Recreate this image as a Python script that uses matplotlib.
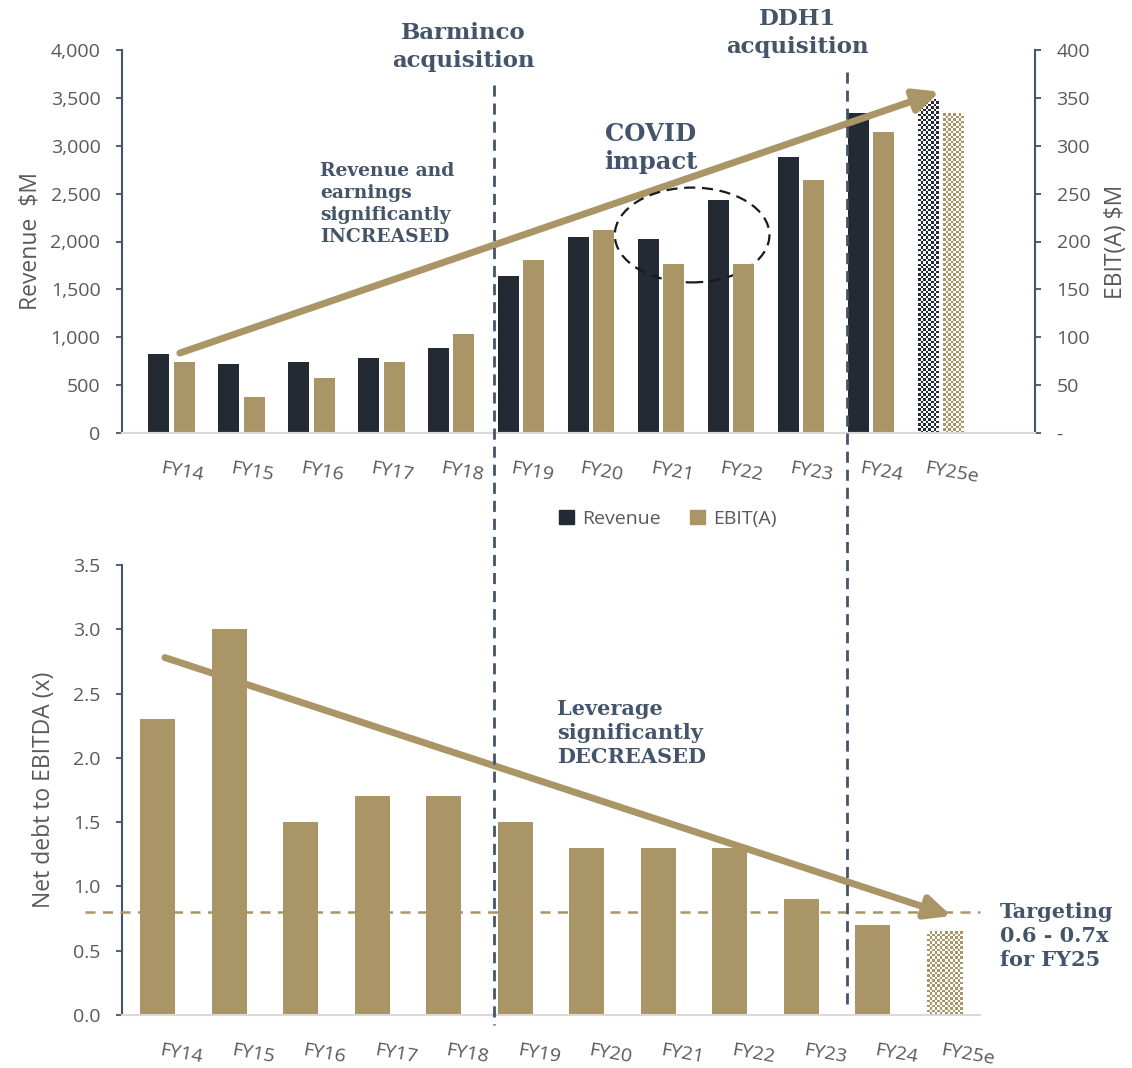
import numpy as np
import matplotlib
matplotlib.use("Agg")
import matplotlib.pyplot as plt
from matplotlib.patches import Ellipse, Patch
from matplotlib.lines import Line2D
from matplotlib.ticker import FixedLocator, FixedFormatter, FuncFormatter

# ---- data -------------------------------------------------------------
years = ["FY14", "FY15", "FY16", "FY17", "FY18", "FY19",
         "FY20", "FY21", "FY22", "FY23", "FY24", "FY25e"]
revenue = [825, 720, 740, 783, 888, 1640, 2047, 2026, 2433, 2882, 3342, 3488]
ebit = [74, 38, 57, 74, 103, 181, 212, 177, 177, 264, 314, 334]
leverage = [2.3, 3.0, 1.5, 1.7, 1.7, 1.5, 1.3, 1.3, 1.3, 0.9, 0.7, 0.65]
leverage_target = 0.8
rev_ticks = [0, 500, 1000, 1500, 2000, 2500, 3000, 3500, 4000]
ebit_ticks = [0, 50, 100, 150, 200, 250, 300, 350, 400]
lev_ticks = [0.0, 0.5, 1.0, 1.5, 2.0, 2.5, 3.0, 3.5]

# ---- style ------------------------------------------------------------
NAVY = "#232A34"
GOLD = "#AA9566"
SLATE = "#44546A"
GREY = "#595959"
BASE = "#D9D9D9"
TICK_FONT = "Open Sans"
NOTE_FONT = "DejaVu Serif"

W, H = 1132, 1068
fig = plt.figure(figsize=(W / 100, H / 100), dpi=100)


def fbox(x0, y0, x1, y1):
    """pixel box (top-left origin) -> figure rect"""
    return [x0 / W, 1 - y1 / H, (x1 - x0) / W, (y1 - y0) / H]


def checker_bar(ax, x, width, height, color, cell_px=2.5):
    """bar filled with a fine checkerboard (forecast years)"""
    p0 = ax.transData.transform((x - width / 2, 0))
    p1 = ax.transData.transform((x + width / 2, height))
    nx = max(1, int(round(abs(p1[0] - p0[0]) / cell_px)))
    ny = max(1, int(round(abs(p1[1] - p0[1]) / cell_px)))
    mask = np.add.outer(np.arange(ny), np.arange(nx)) % 2
    rgb = np.array(matplotlib.colors.to_rgb(color))
    img = np.ones((ny, nx, 3))
    img[mask == 1] = rgb
    xl, yl = ax.get_xlim(), ax.get_ylim()
    ax.imshow(img, extent=(x - width / 2, x + width / 2, 0, height),
              aspect="auto", interpolation="nearest", zorder=2, origin="lower")
    ax.set_xlim(xl)
    ax.set_ylim(yl)


def style_xticks(ax, idx, shift):
    # category labels sit slightly right of their bars, tilted
    ax.set_xticks(idx + shift)
    ax.set_xticklabels(years, rotation=-10, fontsize=14, color=GREY,
                       fontfamily=TICK_FONT)
    ax.tick_params(axis="x", length=0, pad=19)


def style_yticks(ax):
    ax.tick_params(axis="y", labelsize=14, labelcolor=GREY, color=SLATE,
                   length=4.5, width=1.3, pad=11)
    for lab in ax.get_yticklabels():
        lab.set_fontfamily(TICK_FONT)


idx = np.arange(len(years))
arrow_style = dict(arrowstyle="-|>,head_length=1.5,head_width=0.7",
                   lw=5, color=GOLD, shrinkA=0, shrinkB=0)

# ---- top panel: revenue & EBIT(A) -------------------------------------
ax1 = fig.add_axes(fbox(122, 50, 1035, 433))
ax1.set_xlim(-0.707, 12.34)
ax1.set_ylim(0, 4000)
ax2 = ax1.twinx()
ax2.set_ylim(0, 400)

bw = 0.30
off = 0.18
act = idx[:-1]
ax1.bar(act - off, revenue[:-1], bw, color=NAVY, zorder=2)
ax2.bar(act + off, ebit[:-1], bw, color=GOLD, zorder=2)
checker_bar(ax1, idx[-1] - off, bw, revenue[-1], NAVY)
checker_bar(ax2, idx[-1] + off, bw, ebit[-1], GOLD)

for a in (ax1, ax2):
    a.spines["top"].set_visible(False)
    a.spines["bottom"].set_color(BASE)
    a.spines["bottom"].set_linewidth(1.5)
ax1.spines["right"].set_visible(False)
ax2.spines["left"].set_visible(False)
ax1.spines["left"].set_color(SLATE)
ax1.spines["left"].set_linewidth(1.5)
ax2.spines["right"].set_color(SLATE)
ax2.spines["right"].set_linewidth(1.5)

ax1.yaxis.set_major_locator(FixedLocator(rev_ticks))
ax1.yaxis.set_major_formatter(FuncFormatter(lambda v, p: f"{int(v):,}"))
ax2.yaxis.set_major_locator(FixedLocator(ebit_ticks))
ax2.yaxis.set_major_formatter(
    FixedFormatter(["-"] + [str(v) for v in ebit_ticks[1:]]))
style_yticks(ax1)
style_yticks(ax2)
ax1.set_ylabel("Revenue  $M", fontsize=16.5, color=GREY, fontfamily=TICK_FONT,
               labelpad=6)
ax2.set_ylabel("EBIT(A) $M", fontsize=16.5, color=GREY, fontfamily=TICK_FONT,
               labelpad=10)
style_xticks(ax1, idx, 0.15)
ax2.tick_params(axis="x", length=0)

# growth trend arrow
ax1.annotate("", xy=(10.98, 3565), xytext=(0.12, 835),
             arrowprops=arrow_style, zorder=5)
# COVID ring
ax1.add_patch(Ellipse((7.44, 2068), 2.21, 990, fill=False, ec="#1A1A1A",
                      lw=1.6, ls=(0, (5, 3)), zorder=6))

note = dict(fontfamily=NOTE_FONT, fontweight="bold", color=SLATE)
fig.text(463 / W, 1 - 47 / H, "Barminco\nacquisition", ha="center",
         va="center", fontsize=16.5, linespacing=1.3, **note)
fig.text(797 / W, 1 - 33 / H, "DDH1\nacquisition", ha="center",
         va="center", fontsize=16.5, linespacing=1.3, **note)
fig.text(651 / W, 1 - 148 / H, "COVID\nimpact", ha="center",
         va="center", fontsize=17.5, linespacing=1.25, **note)
fig.text(320 / W, 1 - 204 / H,
         "Revenue and\nearnings\nsignificantly\nINCREASED", ha="left",
         va="center", fontsize=13.5, linespacing=1.3, **note)

fig.legend(handles=[Patch(color=NAVY, label="Revenue"),
                    Patch(color=GOLD, label="EBIT(A)")],
           loc="center", bbox_to_anchor=(668 / W, 1 - 519 / H), ncol=2,
           frameon=False, handlelength=0.75, handleheight=0.75,
           handletextpad=0.45, columnspacing=1.5,
           prop=dict(family=TICK_FONT, size=14), labelcolor=GREY)

# ---- bottom panel: leverage -------------------------------------------
ax3 = fig.add_axes(fbox(122, 565, 980, 1015))
ax3.set_xlim(-0.5, 11.5)
ax3.set_ylim(0, 3.5)
ax3.bar(idx[:-1], leverage[:-1], 0.49, color=GOLD, zorder=2)
checker_bar(ax3, idx[-1], 0.49, leverage[-1], GOLD)
ax3.axhline(leverage_target, color=GOLD, lw=1.8, ls=(0, (4, 3)), zorder=3,
            xmin=-0.043, clip_on=False)
for s in ("top", "right"):
    ax3.spines[s].set_visible(False)
ax3.spines["bottom"].set_color(BASE)
ax3.spines["bottom"].set_linewidth(1.5)
ax3.spines["left"].set_color(SLATE)
ax3.spines["left"].set_linewidth(1.5)
ax3.yaxis.set_major_locator(FixedLocator(lev_ticks))
ax3.yaxis.set_major_formatter(FuncFormatter(lambda v, p: f"{v:.1f}"))
style_yticks(ax3)
ax3.set_ylabel("Net debt to EBITDA (x)", fontsize=16.5, color=GREY,
               fontfamily=TICK_FONT, labelpad=12)
style_xticks(ax3, idx, 0.33)

ax3.annotate("", xy=(11.1, 0.77), xytext=(0.10, 2.78),
             arrowprops=arrow_style, zorder=5)
fig.text(557 / W, 1 - 733 / H, "Leverage\nsignificantly\nDECREASED",
         ha="left", va="center", fontsize=15, linespacing=1.25, **note)
fig.text(1000 / W, 1 - 936 / H, "Targeting\n0.6 - 0.7x\nfor FY25",
         ha="left", va="center", fontsize=15, linespacing=1.25, **note)

# acquisition markers spanning both panels
for xp, y0, y1 in ((494, 85, 1025), (847, 72, 1005)):
    fig.add_artist(Line2D([xp / W, xp / W], [1 - y0 / H, 1 - y1 / H],
                          transform=fig.transFigure, color=SLATE, lw=2,
                          ls=(0, (4, 2.5)), zorder=10))

fig.savefig("out.png", dpi=100)
